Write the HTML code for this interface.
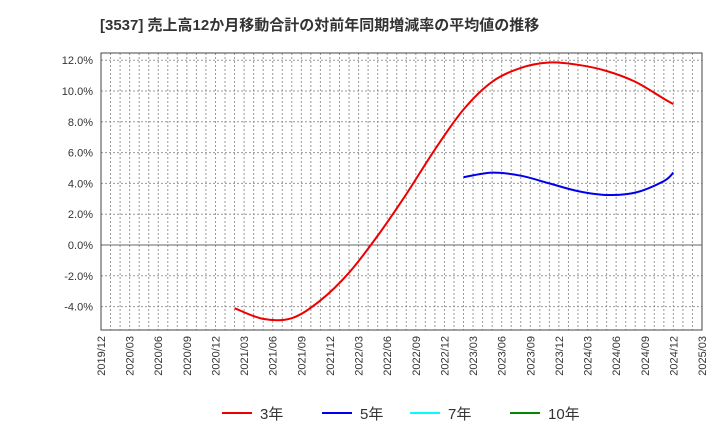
<!DOCTYPE html>
<html><head><meta charset="utf-8"><style>
body{margin:0;background:#fff;font-family:"Liberation Sans","Noto Sans CJK JP",sans-serif}
svg text{font-family:"Liberation Sans","Noto Sans CJK JP",sans-serif}
</style></head><body>
<svg id="c" width="720" height="440" xmlns="http://www.w3.org/2000/svg">
<text x="100" y="30" font-size="15" font-weight="bold" fill="#333">[3537]  売上高12か月移動合計の対前年同期増減率の平均値の推移</text>
<g id="grid"></g><g id="axes"></g><g id="series"></g>
<g>
<line x1="222" y1="413" x2="252" y2="413" stroke="#e00" stroke-width="2"/><text x="260" y="419" font-size="15" fill="#333">3年</text>
<line x1="322" y1="413" x2="352" y2="413" stroke="#00e" stroke-width="2"/><text x="360" y="419" font-size="15" fill="#333">5年</text>
<line x1="410" y1="413" x2="440" y2="413" stroke="#0ff" stroke-width="2"/><text x="448" y="419" font-size="15" fill="#333">7年</text>
<line x1="510" y1="413" x2="540" y2="413" stroke="#080" stroke-width="2"/><text x="548" y="419" font-size="15" fill="#333">10年</text>
</g>
</svg>
<script>
const xLabels=["2019/12","2020/03","2020/06","2020/09","2020/12","2021/03","2021/06","2021/09","2021/12","2022/03","2022/06","2022/09","2022/12","2023/03","2023/06","2023/09","2023/12","2024/03","2024/06","2024/09","2024/12","2025/03"];
const yTicks=[-4,-2,0,2,4,6,8,10,12];
const redMonths=[14,17,20,23,26,29,32,35,38,41,44,47,50,53,56,59,60];
const redValues=[-4.1,-4.8,-4.75,-3.6,-1.8,0.6,3.3,6.2,8.8,10.6,11.5,11.85,11.7,11.3,10.6,9.5,9.15];
const blueMonths=[38,41,44,47,50,53,56,59,60];
const blueValues=[4.4,4.7,4.5,4.0,3.5,3.25,3.4,4.15,4.7];
const L=101,R=702,T=53,B=330;
const x=m=>L+(R-L)*m/63;
const y=v=>245-(v)*15.4;
const NS="http://www.w3.org/2000/svg";
function mk(p,t,a){const e=document.createElementNS(NS,t);for(const k in a)e.setAttribute(k,a[k]);p.appendChild(e);return e;}
const g=document.getElementById('grid'),ax=document.getElementById('axes'),s=document.getElementById('series');
for(let m=1;m<63;m++){const l=mk(g,'line',{x1:x(m),x2:x(m),y1:T,y2:B,stroke:'#999','stroke-dasharray':'2,2','stroke-width':1});

}
yTicks.forEach(v=>{const l=mk(g,'line',{x1:L,x2:R,y1:y(v),y2:y(v),stroke:v===0?'#666':'#999','stroke-dasharray':v===0?'':'2,2','stroke-width':1});


const t=mk(ax,'text',{x:L-8,y:y(v)+4,'text-anchor':'end','font-size':11,fill:'#333'});t.textContent=v.toFixed(1)+'%';

});
const fr=mk(ax,'rect',{x:L,y:T,width:R-L,height:B-T,fill:'none',stroke:'#444','stroke-width':1});


xLabels.forEach((lb,i)=>{const xx=x(i*3);const t=mk(ax,'text',{x:xx+4,y:B+6,'text-anchor':'end','font-size':11,fill:'#333',transform:`rotate(-90 ${xx+4} ${B+6})`});t.textContent=lb;

});
function path(ms,vs){const P=ms.map((m,i)=>[x(m),y(vs[i])]);let d=`M${P[0][0]},${P[0][1]}`;
for(let i=0;i<P.length-1;i++){const p0=P[i-1]||P[i],p1=P[i],p2=P[i+1],p3=P[i+2]||p2;
d+=` C${p1[0]+(p2[0]-p0[0])/6},${p1[1]+(p2[1]-p0[1])/6} ${p2[0]-(p3[0]-p1[0])/6},${p2[1]-(p3[1]-p1[1])/6} ${p2[0]},${p2[1]}`;}return d;}
const r=mk(s,'path',{d:path(redMonths,redValues),fill:'none',stroke:'#e00','stroke-width':2});


const b=mk(s,'path',{d:path(blueMonths,blueValues),fill:'none',stroke:'#00e','stroke-width':2});


</script>
</body></html>
